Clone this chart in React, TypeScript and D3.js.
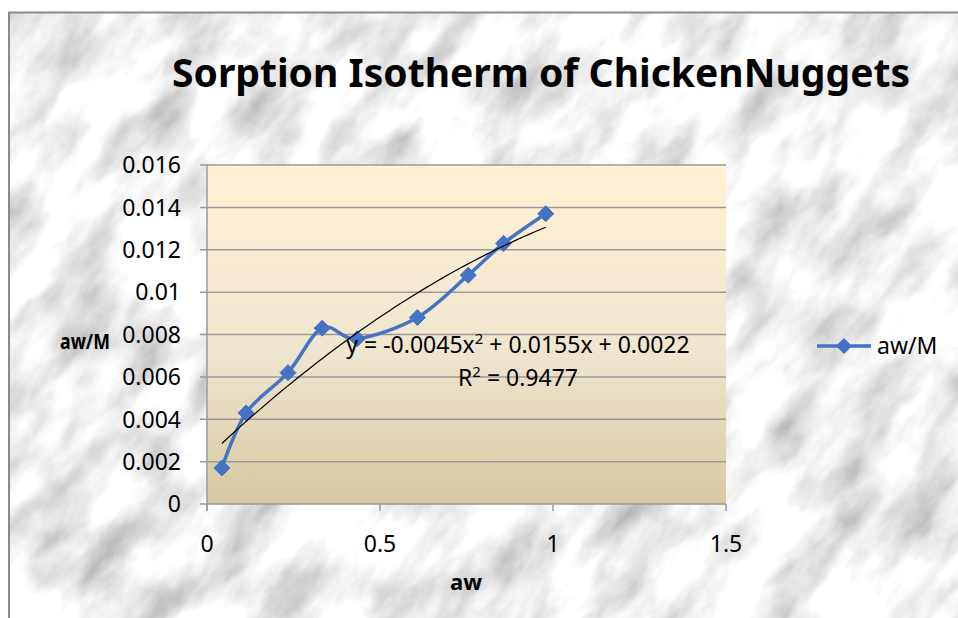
import React from 'react';
import * as d3 from 'd3';

// readings taken off the chart
const aw = [0.043, 0.113, 0.234, 0.333, 0.434, 0.608, 0.755, 0.857, 0.979];
const awM = [0.0017, 0.0043, 0.0062, 0.0083, 0.0078, 0.0088, 0.0108, 0.0123, 0.0137];
const xTicks = [0, 0.5, 1, 1.5];
const yTicks = [0, 0.002, 0.004, 0.006, 0.008, 0.01, 0.012, 0.014, 0.016];
const trendCoef = [-0.0045, 0.0155, 0.0022]; // x^2, x, const
const trendSteps = 60;

const W = 958;
const H = 618;
const plot = { left: 207, right: 726, top: 165, bottom: 504 };
const BLUE = '#4472C4';
const GRID = '#9a9a9a';
const FONT = '"Noto Sans", sans-serif';

const App = () => {
    const x = d3.scaleLinear().domain([0, 1.5]).range([plot.left, plot.right]);
    const y = d3.scaleLinear().domain([0, 0.016]).range([plot.bottom, plot.top]);

    const pts: [number, number][] = aw.map((v, i) => [v, awM[i]]);
    const seriesLine = d3.line<[number, number]>()
        .x(d => x(d[0]))
        .y(d => y(d[1]))
        .curve(d3.curveCardinal.tension(0));

    // polynomial trendline from the displayed coefficients
    const x0 = d3.min(aw) as number;
    const x1 = d3.max(aw) as number;
    const trend: [number, number][] = d3.range(trendSteps + 1).map(i => {
        const t = x0 + (x1 - x0) * i / trendSteps;
        return [t, trendCoef[0] * t * t + trendCoef[1] * t + trendCoef[2]];
    });
    const trendLine = d3.line<[number, number]>().x(d => x(d[0])).y(d => y(d[1]));

    const diamond = (cx: number, cy: number, r: number) =>
        `M${cx},${cy - r}L${cx + r},${cy}L${cx},${cy + r}L${cx - r},${cy}Z`;

    return (
        <svg width={W} height={H} style={{ position: 'absolute', left: 0, top: 0 }} fontFamily={FONT}>
            <defs>
                <filter id="marble" x="0" y="0" width="100%" height="100%">
                    <feTurbulence type="fractalNoise" baseFrequency="0.011 0.024" numOctaves="5" seed="4" />
                    <feColorMatrix type="matrix"
                        values="1.1 0 0 0 0.33  1.1 0 0 0 0.33  1.1 0 0 0 0.33  0 0 0 0 1" />
                </filter>
                <linearGradient id="plotFill" x1="0" y1="0" x2="0" y2="1">
                    <stop offset="0" stopColor="#fff1d4" />
                    <stop offset="0.55" stopColor="#efe6cf" />
                    <stop offset="1" stopColor="#d6c8a0" />
                </linearGradient>
                <clipPath id="chartClip">
                    <rect x={9} y={13} width={W} height={H} />
                </clipPath>
            </defs>

            <rect width={W} height={H} fill="#fff" />
            <g clipPath="url(#chartClip)">
                <g transform="rotate(-50 480 310)">
                    <rect x={-500} y={-500} width={1950} height={1650} filter="url(#marble)" />
                </g>
            </g>
            <path d={`M9,${H}V12.5H${W}`} fill="none" stroke="#8a8a8a" strokeWidth={2} />

            <text x={172} y={87} fontSize={40} fontWeight="bold" textLength={738}
                lengthAdjust="spacingAndGlyphs">Sorption Isotherm of ChickenNuggets</text>

            <rect x={plot.left} y={plot.top} width={plot.right - plot.left}
                height={plot.bottom - plot.top} fill="url(#plotFill)" />

            {yTicks.map(t => (
                <g key={'y' + t}>
                    <line x1={plot.left - 7} x2={t === 0 ? plot.left : plot.right} y1={y(t)} y2={y(t)}
                        stroke={GRID} strokeWidth={1.5} />
                    <text x={181} y={y(t)} dy="0.36em" textAnchor="end" fontSize={23}>{String(t)}</text>
                </g>
            ))}
            <line x1={plot.left} x2={plot.right} y1={plot.bottom} y2={plot.bottom} stroke={GRID} strokeWidth={1.5} />
            <line x1={plot.left} x2={plot.left} y1={plot.top} y2={plot.bottom + 7} stroke={GRID} strokeWidth={1.5} />
            {xTicks.map(t => (
                <g key={'x' + t}>
                    <line x1={x(t)} x2={x(t)} y1={plot.bottom} y2={plot.bottom + 7} stroke={GRID} strokeWidth={1.5} />
                    <text x={x(t)} y={552} textAnchor="middle" fontSize={23}>{String(t)}</text>
                </g>
            ))}

            <path d={seriesLine(pts) || ''} fill="none" stroke={BLUE} strokeWidth={3.5} strokeLinejoin="round" />
            {pts.map((d, i) => (
                <path key={i} d={diamond(x(d[0]), y(d[1]), 8)} fill={BLUE} stroke={BLUE} strokeWidth={1} />
            ))}
            <path d={trendLine(trend) || ''} fill="none" stroke="#000" strokeWidth={1.2} />

            <text x={518} y={353} textAnchor="middle" fontSize={23}>
                y = -0.0045x<tspan fontSize={15} dy={-9}>2</tspan><tspan dy={9}> + 0.0155x + 0.0022</tspan>
            </text>
            <text x={518} y={386} textAnchor="middle" fontSize={23}>
                R<tspan fontSize={15} dy={-9}>2</tspan><tspan dy={9}> = 0.9477</tspan>
            </text>

            <text x={60} y={349} fontSize={22} fontWeight="bold" textLength={50}
                lengthAdjust="spacingAndGlyphs">aw/M</text>
            <text x={466} y={590} textAnchor="middle" fontSize={22} fontWeight="bold">aw</text>

            <line x1={817} x2={871} y1={346} y2={346} stroke={BLUE} strokeWidth={3.5} />
            <path d={diamond(844, 346, 8)} fill={BLUE} />
            <text x={877} y={354} fontSize={23}>aw/M</text>
        </svg>
    );
};

export default App;
